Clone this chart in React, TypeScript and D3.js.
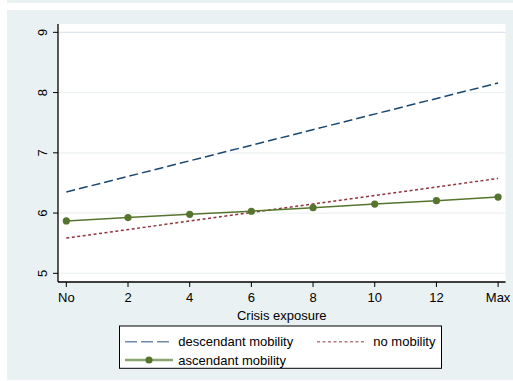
import React from "react";
import * as d3 from "d3";

const xTicks = [0, 2, 4, 6, 8, 10, 12, 14];
const xTickLabels = ["No", "2", "4", "6", "8", "10", "12", "Max"];
const yTicks = [5, 6, 7, 8, 9];

const descX = [0, 14];
const descY = [6.35, 8.16];
const noMobX = [0, 14];
const noMobY = [5.585, 6.575];
const ascX = [0, 2, 4, 6, 8, 10, 12, 14];
const ascY = [5.87, 5.925, 5.98, 6.03, 6.09, 6.15, 6.205, 6.265];

const NAVY = "#1a476f";
const MAROON = "#90353b";
const GREEN = "#55752f";
const BG = "#e9f1f3";

export default function App() {
  const W = 513, H = 381;
  const left = 58, right = 505.5, top = 24, bottom = 282;
  const x = d3.scaleLinear().domain([-0.27, 14.24]).range([left, right]);
  const y = d3.scaleLinear().domain([4.856, 9.138]).range([bottom, top]);
  const line = d3.line<[number, number]>().x(d => x(d[0])).y(d => y(d[1]));
  const zip = (a: number[], b: number[]) => a.map((v, i) => [v, b[i]] as [number, number]);
  const font = "'Liberation Sans', Arial, sans-serif";

  return (
    <svg width={W} height={H} style={{ position: "absolute", left: 0, top: 0, background: "#fff" }} fontFamily={font}>
      <rect x={7} y={0} width={506} height={3} fill={BG} />
      <rect x={7} y={10} width={506} height={370} fill={BG} />
      <rect x={left} y={top} width={right - left} height={bottom - top} fill="#fff" />
      {yTicks.map(t => (
        <line key={"g" + t} x1={left} x2={right} y1={y(t)} y2={y(t)}
          stroke={t === 9 ? "#dde3ef" : "#edf2f2"} strokeWidth={1.2} />
      ))}
      {/* data */}
      <path d={line(zip(descX, descY)) || ""} fill="none" stroke={NAVY} strokeWidth={1.5} strokeDasharray="9,4" />
      <path d={line(zip(noMobX, noMobY)) || ""} fill="none" stroke={MAROON} strokeWidth={1.5} strokeDasharray="3,2.5" />
      <path d={line(zip(ascX, ascY)) || ""} fill="none" stroke={GREEN} strokeWidth={1.5} />
      {ascX.map((v, i) => (
        <circle key={"m" + i} cx={x(v)} cy={y(ascY[i])} r={3.6} fill={GREEN} />
      ))}
      {/* axes */}
      <line x1={left} x2={left} y1={top} y2={bottom} stroke="#000" strokeWidth={1.3} />
      <line x1={left} x2={right} y1={bottom} y2={bottom} stroke="#000" strokeWidth={1.3} />
      {yTicks.map(t => (
        <g key={"y" + t}>
          <line x1={left - 5} x2={left} y1={y(t)} y2={y(t)} stroke="#000" strokeWidth={1} />
          <text transform={`translate(42.5,${y(t)}) rotate(-90)`} textAnchor="middle" dominantBaseline="central" fontSize={13} fill="#000">{t}</text>
        </g>
      ))}
      {xTicks.map((t, i) => (
        <g key={"x" + t}>
          <line x1={x(t)} x2={x(t)} y1={bottom} y2={bottom + 5} stroke="#000" strokeWidth={1} />
          <text x={x(t)} y={297.7} textAnchor="middle" dominantBaseline="central" fontSize={13} fill="#000">{xTickLabels[i]}</text>
        </g>
      ))}
      <text x={(left + right) / 2} y={315} textAnchor="middle" dominantBaseline="central" fontSize={13} fill="#000">Crisis exposure</text>
      {/* legend */}
      <rect x={119.5} y={326} width={322} height={42.3} fill="#fff" stroke="#000" strokeWidth={1} />
      <line x1={125} x2={173} y1={341.7} y2={341.7} stroke="#6f8cad" strokeWidth={1.6} strokeDasharray="12,4" />
      <text x={178.3} y={341.7} dominantBaseline="central" fontSize={13} fill="#000">descendant mobility</text>
      <line x1={317} x2={366} y1={341.7} y2={341.7} stroke="#b87b80" strokeWidth={1.5} strokeDasharray="3,2.5" />
      <text x={373.3} y={341.7} dominantBaseline="central" fontSize={13} fill="#000">no mobility</text>
      <line x1={125} x2={173} y1={360} y2={360} stroke="#8aa672" strokeWidth={2.6} />
      <circle cx={149} cy={360} r={3.6} fill={GREEN} />
      <text x={178.3} y={360} dominantBaseline="central" fontSize={13} fill="#000">ascendant mobility</text>
    </svg>
  );
}
